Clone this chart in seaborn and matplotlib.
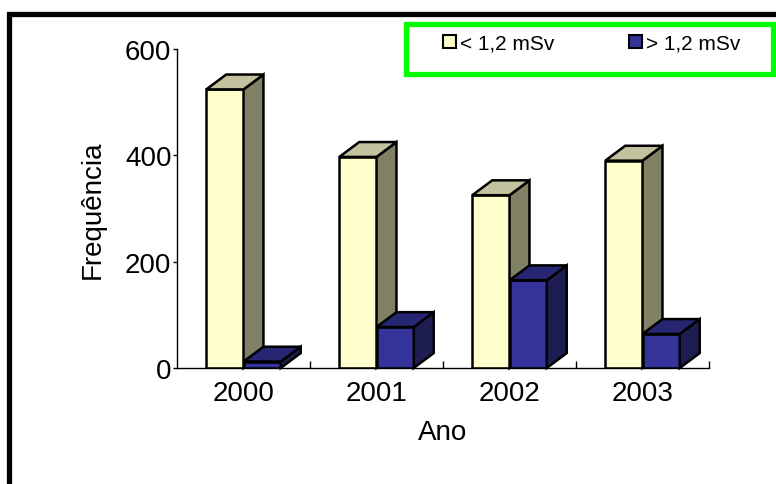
import matplotlib

matplotlib.use("Agg")

import matplotlib.pyplot as plt
import pandas as pd
import seaborn as sns
from matplotlib.lines import Line2D
from matplotlib.patches import Patch, Polygon, Rectangle


YEARS = ["2000", "2001", "2002", "2003"]
LOW_DOSE = [524, 397, 325, 390]
HIGH_DOSE = [12, 77, 165, 64]
GROUPS = ["< 1,2 mSv", "> 1,2 mSv"]
Y_TICKS = [0, 200, 400, 600]

# front, top, side colours for each group
FACE_COLORS = {
    "< 1,2 mSv": ("#FFFFCC", "#C2C29E", "#808064"),
    "> 1,2 mSv": ("#333399", "#262673", "#1D1D52"),
}

DEPTH_X = 0.15  # category units
DEPTH_Y = 28  # value units


def build_frame() -> pd.DataFrame:
    rows = []
    for group, values in zip(GROUPS, [LOW_DOSE, HIGH_DOSE]):
        for year, value in zip(YEARS, values):
            rows.append({"Ano": year, "grupo": group, "Frequência": value})
    return pd.DataFrame(rows)


def add_3d_faces(ax, container, group: str, zorder: float) -> None:
    _, top_color, side_color = FACE_COLORS[group]
    for bar in container:
        bar.set_zorder(zorder)
        x0 = bar.get_x()
        x1 = x0 + bar.get_width()
        h = bar.get_height()
        top = Polygon(
            [(x0, h), (x1, h), (x1 + DEPTH_X, h + DEPTH_Y), (x0 + DEPTH_X, h + DEPTH_Y)],
            closed=True,
            facecolor=top_color,
            edgecolor="black",
            linewidth=1.8,
            joinstyle="miter",
            zorder=zorder,
            clip_on=False,
        )
        side = Polygon(
            [(x1, 0), (x1 + DEPTH_X, DEPTH_Y), (x1 + DEPTH_X, h + DEPTH_Y), (x1, h)],
            closed=True,
            facecolor=side_color,
            edgecolor="black",
            linewidth=1.8,
            joinstyle="miter",
            zorder=zorder,
            clip_on=False,
        )
        ax.add_patch(side)
        ax.add_patch(top)


def main() -> None:
    sns.set_style("ticks")
    plt.rcParams["font.family"] = ["Liberation Sans", "DejaVu Sans"]
    plt.rcParams["text.color"] = "black"
    plt.rcParams["axes.labelcolor"] = "black"

    df = build_frame()

    fig = plt.figure(figsize=(7.76, 4.85), dpi=100)
    ax = fig.add_axes([0.2281, 0.2392, 0.6856, 0.6577])

    sns.barplot(
        data=df,
        x="Ano",
        y="Frequência",
        hue="grupo",
        hue_order=GROUPS,
        order=YEARS,
        palette=[FACE_COLORS[g][0] for g in GROUPS],
        saturation=1,
        width=0.56,
        edgecolor="black",
        linewidth=1.8,
        errorbar=None,
        legend=False,
        ax=ax,
    )

    for idx, (container, group) in enumerate(zip(ax.containers, GROUPS)):
        add_3d_faces(ax, container, group, zorder=2 + idx)

    ax.set_xlim(-0.5, len(YEARS) - 0.5)
    ax.set_ylim(0, 600)
    ax.set_yticks(Y_TICKS)

    for side in ["top", "right"]:
        ax.spines[side].set_visible(False)
    for side in ["left", "bottom"]:
        ax.spines[side].set_color("black")
        ax.spines[side].set_linewidth(1.0)

    ax.tick_params(axis="y", direction="out", length=3, width=1, pad=1, labelsize=20, colors="black")
    ax.tick_params(axis="x", which="major", length=0, pad=9, labelsize=20, colors="black")
    ax.set_xticks([i + 0.5 for i in range(len(YEARS))], minor=True)
    ax.tick_params(axis="x", which="minor", direction="in", length=5, width=1, colors="black")

    ax.set_xlabel("Ano", fontsize=20, labelpad=9)
    ax.set_ylabel("Frequência", fontsize=20, labelpad=14)

    # legend with green frame
    fig.add_artist(
        Rectangle(
            (406 / 776, 1 - 74.5 / 485),
            (773 - 406) / 776,
            50 / 485,
            transform=fig.transFigure,
            facecolor="white",
            edgecolor="#00FF00",
            linewidth=3.8,
            zorder=5,
        )
    )
    handles = [
        Patch(facecolor=FACE_COLORS[g][0], edgecolor="black", linewidth=1.5) for g in GROUPS
    ]
    leg = fig.legend(
        handles,
        GROUPS,
        loc="center left",
        bbox_to_anchor=(443 / 776, 1 - 44 / 485),
        ncol=2,
        frameon=False,
        fontsize=15,
        handlelength=0.6,
        handleheight=0.6,
        handletextpad=0.2,
        columnspacing=3.6,
        borderpad=0,
        borderaxespad=0,
    )
    leg.set_zorder(6)

    # black frame on left and top
    fig.add_artist(
        Line2D(
            [8.5 / 776, 8.5 / 776, 1.0],
            [0.0, 1 - 14.5 / 485, 1 - 14.5 / 485],
            transform=fig.transFigure,
            color="black",
            linewidth=3.8,
            solid_joinstyle="miter",
        )
    )

    fig.savefig("out.png", dpi=100)
    plt.close(fig)


if __name__ == "__main__":
    main()
